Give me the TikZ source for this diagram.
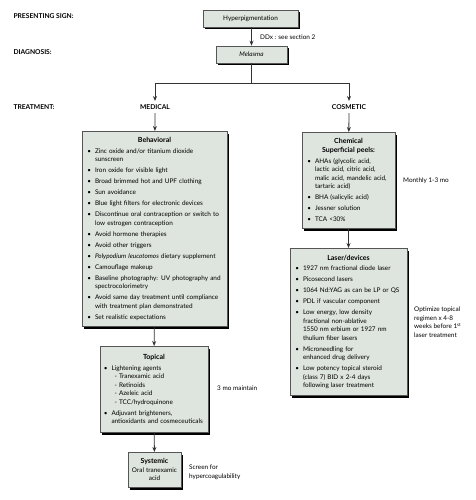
\documentclass[tikz,border=0pt]{standalone}
\usepackage{fontspec}
\setmainfont{Lato}
\usetikzlibrary{arrows.meta,positioning,shadows}
\definecolor{boxfill}{HTML}{DEE4DE}
\definecolor{boxline}{HTML}{555555}
\newenvironment{bul}{\begin{list}{\textbullet}{\setlength\leftmargin{9pt}%
  \setlength\labelwidth{5pt}\setlength\labelsep{4pt}\setlength\itemsep{2.5pt}%
  \setlength\parsep{0pt}\setlength\topsep{2pt}\setlength\partopsep{0pt}}}{\end{list}}
\newcommand{\subit}[1]{\\\hspace*{3pt}- #1}
\tikzset{box/.style={draw=boxline,fill=boxfill,line width=0.6pt,
           drop shadow={shadow xshift=2.2pt,shadow yshift=-2.2pt,fill=black,opacity=1},
           inner xsep=4pt,inner ysep=3pt,font=\fontsize{6.4}{8.5}\selectfont},
         arr/.style={-{Stealth[length=5pt,width=4pt]},line width=0.8pt,black!80},
         hdr/.style={font=\fontsize{6.7}{8}\selectfont\bfseries},
         note/.style={font=\fontsize{6.4}{8.6}\selectfont,align=left,inner sep=0pt}}
\newcommand{\ttl}[1]{{\centering\fontsize{7}{9}\selectfont\bfseries #1\par}}
\begin{document}
\begin{tikzpicture}[x=1pt,y=-1pt]
\useasboundingbox (0,0) rectangle (475,500);
% row headings
\node[hdr,anchor=west] (hsign) at (10,16) {PRESENTING SIGN:};
\node[hdr,anchor=west] (hdiag) at (10,52) {DIAGNOSIS:};
\node[hdr,anchor=west] (htreat) at (10,107) {TREATMENT:};
% sign and diagnosis
\node[box,minimum width=95pt,minimum height=17pt] (hyper) at (250.5,18.5) {Hyperpigmentation};
\node[box,minimum width=71pt,minimum height=17pt] (melasma) at (251.5,54.5) {\itshape Melasma};
\draw[arr] (hyper.south -| melasma) -- (melasma);
\node[note,anchor=west] (ddx) at (260,37) {DDx : see section 2};
% split into the two branches
\node[hdr] (medical) at (155,107) {MEDICAL};
\node[hdr] (cosmetic) at (349,107) {COSMETIC};
\coordinate (split) at (251.5,83);
\draw[line width=0.8pt,black!80] (melasma) -- (split);
\draw[arr] (split) -| (medical.north);
\draw[arr] (split) -| (cosmetic.north);
% medical branch
\node[box,anchor=north,text width=137pt,minimum height=195pt] (behav) at (154.5,131) {%
  \ttl{Behavioral}
  \begin{bul}
  \item Zinc oxide and/or titanium dioxide\\ sunscreen
  \item Iron oxide for visible light
  \item Broad brimmed hot and UPF clothing
  \item Sun avoidance
  \item Blue light filters for electronic devices
  \item Discontinue oral contraception or switch to\\ low estrogen contraception
  \item Avoid hormone therapies
  \item Avoid other triggers
  \item \textit{Polypodium leucotomos} dietary supplement
  \item Camouflage makeup
  \item Baseline photography: UV photography and\\ spectrocolorimetry
  \item Avoid same day treatment until compliance\\ with treatment plan demonstrated
  \item Set realistic expectations
  \end{bul}};
\node[box,anchor=north,text width=103pt,inner xsep=2.5pt,minimum height=86pt] (topical) at (154,346) {%
  \ttl{Topical}
  \begin{bul}
  \item Lightening agents\subit{Tranexamic acid}\subit{Retinoids}\subit{Azeleic acid}\subit{TCC/hydroquinone}
  \item Adjuvant brighteners,\\ antioxidants and cosmeceuticals
  \end{bul}};
\node[box,anchor=north,text width=47pt,minimum height=35pt,align=center,inner xsep=3pt] (systemic) at (154.5,452) {%
  {\fontsize{7}{9}\selectfont\bfseries Systemic}\\ Oral tranexamic\\ acid};
\draw[arr] (medical) -- (behav);
\draw[arr] (behav) -- (topical);
\draw[arr] (topical) -- (systemic);
\node[note,anchor=west] (maint) at (217,388) {3 mo maintain};
\node[note,anchor=west] (screen) at (189,472) {Screen for\\ hypercoagulability};
% cosmetic branch
\node[box,anchor=north,text width=85pt,minimum height=96pt] (chem) at (348.5,132) {%
  \ttl{Chemical\\ Superficial peels:}
  \begin{bul}
  \item AHAs (glycolic acid,\\ lactic acid, citric acid,\\ malic acid, mandelic acid,\\ tartaric acid)
  \item BHA (salicylic acid)
  \item Jessner solution
  \item TCA <30\%
  \end{bul}};
\node[box,anchor=north,text width=109pt,minimum height=147pt] (laser) at (348.5,248) {%
  \ttl{Laser/devices}
  \begin{bul}
  \item 1927 nm fractional diode laser
  \item Picosecond lasers
  \item 1064 Nd:YAG as can be LP or QS
  \item PDL if vascular component
  \item Low energy, low density\\ fractional non-ablative\\ 1550 nm erbium or 1927 nm\\ thulium fiber lasers
  \item Microneedling for\\ enhanced drug delivery
  \item Low potency topical steroid\\ (class 7) BID x 2-4 days\\ following laser treatment
  \end{bul}};
\draw[arr] (cosmetic) -- (chem);
\draw[arr] (chem) -- (laser);
\node[note,anchor=west] (monthly) at (403,181) {Monthly 1-3 mo};
\node[note,anchor=west] (optim) at (414,322) {Optimize topical\\ regimen x 4-8\\ weeks before 1\textsuperscript{st}\\ laser treatment};
\end{tikzpicture}
\end{document}
